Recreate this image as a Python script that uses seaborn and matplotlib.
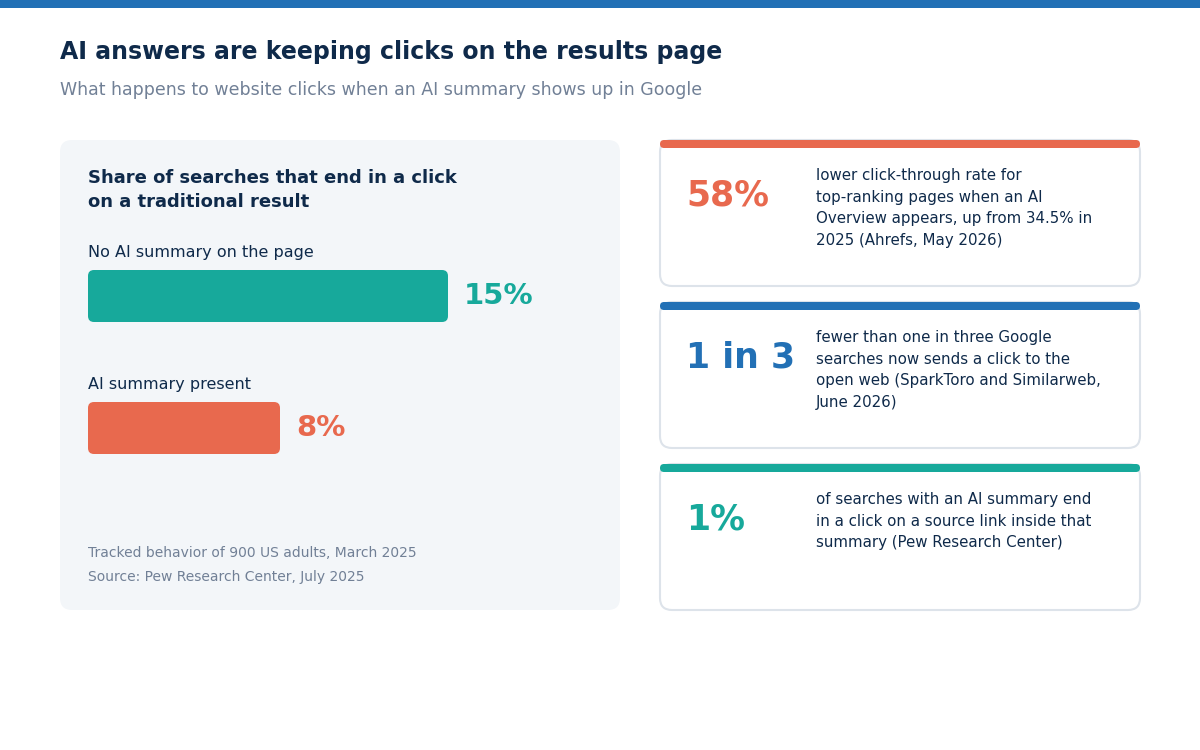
import os
import matplotlib
matplotlib.use("Agg")
import matplotlib.pyplot as plt
import seaborn as sns
import pandas as pd
from matplotlib.patches import FancyBboxPatch, Rectangle
from matplotlib.font_manager import FontProperties

sns.set_theme(style="white")
plt.rcParams['font.family'] = ['DejaVu Sans']
_fd = os.path.join(matplotlib.get_data_path(), "fonts", "ttf")
REG = os.path.join(_fd, "DejaVuSans.ttf")
BOLD = os.path.join(_fd, "DejaVuSans-Bold.ttf")

def fp(size, bold=False):
    return FontProperties(fname=BOLD if bold else REG, size=size)

categories = ["No AI summary on the page", "AI summary present"]
shares = [15, 8]
bar_colors = ["#17a99b", "#e8694e"]
card_values = ["58%", "1 in 3", "1%"]
card_colors = ["#e8694e", "#2270b5", "#17a99b"]
card_texts = [
    "lower click-through rate for\ntop-ranking pages when an AI\nOverview appears, up from 34.5% in\n2025 (Ahrefs, May 2026)",
    "fewer than one in three Google\nsearches now sends a click to the\nopen web (SparkToro and Similarweb,\nJune 2026)",
    "of searches with an AI summary end\nin a click on a source link inside that\nsummary (Pew Research Center)",
]

W, H = 1200, 750
fig = plt.figure(figsize=(12, 7.5), dpi=100)
fig.patch.set_facecolor("white")
fx = lambda p: p / W
fy = lambda p: 1 - p / H
dark = "#0f2a4a"
gray = "#718096"

def rbox(x0, y0, x1, y1, fc, ec="none", lw=0, r=12):
    p = FancyBboxPatch((fx(x0), fy(y1)), fx(x1 - x0), (y1 - y0) / H,
                       boxstyle=f"round,pad=0,rounding_size={r / W}",
                       mutation_aspect=W / H, transform=fig.transFigure,
                       fc=fc, ec=ec, lw=lw, zorder=0)
    fig.add_artist(p)

fig.add_artist(Rectangle((0, fy(8)), 1, 8 / H, transform=fig.transFigure, fc="#2270b5", ec="none"))
fig.text(fx(60), fy(52), "AI answers are keeping clicks on the results page", fontproperties=fp(17, True), color=dark, va="center")
fig.text(fx(60), fy(90), "What happens to website clicks when an AI summary shows up in Google", fontproperties=fp(12.5), color=gray, va="center")

rbox(60, 140, 620, 610, "#f3f6f9")
fig.text(fx(88), fy(190), "Share of searches that end in a click\non a traditional result", fontproperties=fp(13, True), color=dark, va="center", linespacing=1.45)
fig.text(fx(88), fy(252), categories[0], fontproperties=fp(11.5), color=dark, va="center")
fig.text(fx(88), fy(384), categories[1], fontproperties=fp(11.5), color=dark, va="center")
fig.text(fx(88), fy(553), "Tracked behavior of 900 US adults, March 2025", fontproperties=fp(10), color=gray, va="center")
fig.text(fx(88), fy(577), "Source: Pew Research Center, July 2025", fontproperties=fp(10), color=gray, va="center")

ax = fig.add_axes([fx(88), fy(454), fx(360), 184 / H])
ax.set_zorder(5)
ax.patch.set_alpha(0)
df = pd.DataFrame({"cat": categories, "share": shares})
sns.barplot(data=df, x="share", y="cat", hue="cat", palette=bar_colors, width=52 / 132, legend=False, ax=ax)
hb = 26 / 132
ax.set_xlim(0, 15)
ax.set_ylim(1 + hb, -hb)
ax.axis("off")
xpp = 15 / 360
ypp = (1 + 2 * hb) / 184
for p, col, v in zip(list(ax.patches), bar_colors, shares):
    x, y, w, h = p.get_x(), p.get_y(), p.get_width(), p.get_height()
    p.remove()
    ax.add_patch(FancyBboxPatch((x, y), w, h, boxstyle=f"round,pad=0,rounding_size={6 * xpp}",
                                mutation_aspect=ypp / xpp, fc=col, ec="none", clip_on=False))
    ax.text(w + 16 * xpp, y + h / 2, f"{v}%", color=col, fontproperties=fp(21, True), va="center", clip_on=False)

tops = [140, 302, 464]
for t, val, col, txt in zip(tops, card_values, card_colors, card_texts):
    rbox(660, t, 1140, t + 146, "white", ec="#dde3ea", lw=1.5, r=12)
    rbox(660, t, 1140, t + 8, col, r=4)
    fig.text(fx(686), fy(t + 55), val, fontproperties=fp(25, True), color=col, va="center")
    fig.text(fx(816), fy(t + 28), txt, fontproperties=fp(10.8), color=dark, va="top", linespacing=1.55)

fig.savefig("out.png", dpi=100, facecolor="white")
